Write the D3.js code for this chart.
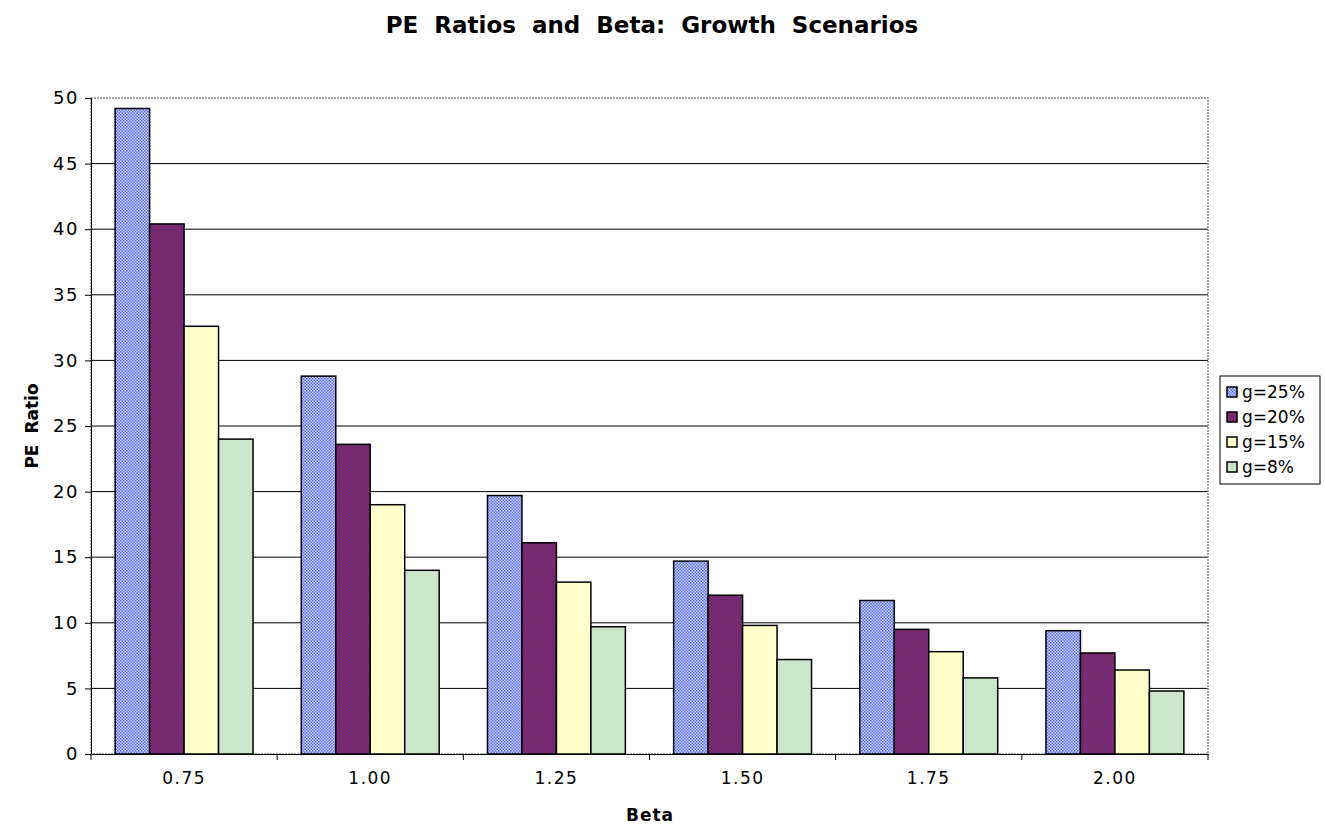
<!DOCTYPE html>
<html><head><meta charset="utf-8">
<script src="https://cdn.jsdelivr.net/npm/d3@7"></script>
<style>body{margin:0;background:#fff;font-family:"DejaVu Sans",sans-serif}</style>
</head><body><svg id="c" width="1325" height="825"></svg>
<script>
const betas = ['0.75','1.00','1.25','1.50','1.75','2.00'];
const seriesNames = ['g=25%','g=20%','g=15%','g=8%'];
const g25 = [49.2, 28.8, 19.7, 14.7, 11.7, 9.4];
const g20 = [40.4, 23.6, 16.1, 12.1, 9.5, 7.7];
const g15 = [32.6, 19.0, 13.1, 9.8, 7.8, 6.4];
const g8  = [24.0, 14.0, 9.7, 7.2, 5.8, 4.8];
const yTicks = [0,5,10,15,20,25,30,35,40,45,50];
const allSeries = [g25, g20, g15, g8];

const svg = d3.select('#c');
const m = {left: 91, right: 1208, top: 98, bottom: 754};

const defs = svg.append('defs');
function dots(id, bg, fg) {
  const p = defs.append('pattern').attr('id', id).attr('width', 3).attr('height', 3)
    .attr('patternUnits', 'userSpaceOnUse');
  p.append('rect').attr('width', 3).attr('height', 3).attr('fill', bg);
  p.append('rect').attr('width', 1.5).attr('height', 1.5).attr('fill', fg);
  p.append('rect').attr('x', 1.5).attr('y', 1.5).attr('width', 1.5).attr('height', 1.5).attr('fill', fg);
}
dots('p25', '#c8d0ff', '#5c6ee8');
dots('p20', '#901a3c', '#5a3aa8');
const fills = ['url(#p25)', 'url(#p20)', '#ffffcc', '#cce6cc'];

const x = d3.scaleBand().domain(betas).range([m.left, m.right]);
const xs = d3.scaleBand().domain(d3.range(4)).range([0, x.bandwidth()]).paddingOuter(0.7);
const y = d3.scaleLinear().domain([0, 50]).range([m.bottom, m.top]);

// grid
svg.append('g').selectAll('line').data(yTicks.filter(d => d > 0 && d < 50)).join('line')
  .attr('x1', m.left).attr('x2', m.right).attr('y1', d => y(d)).attr('y2', d => y(d))
  .attr('stroke', '#000').attr('stroke-width', 1);
svg.append('rect').attr('x', m.left).attr('y', m.top).attr('width', m.right - m.left)
  .attr('height', m.bottom - m.top).attr('fill', 'none').attr('stroke', '#888')
  .attr('stroke-dasharray', '2,1').attr('stroke-width', 1.5);

// bars
allSeries.forEach((vals, s) => {
  svg.append('g').selectAll('rect').data(vals).join('rect')
    .attr('x', (d, i) => x(betas[i]) + xs(s))
    .attr('y', d => y(d)).attr('width', xs.bandwidth())
    .attr('height', d => y(0) - y(d))
    .attr('fill', fills[s]).attr('stroke', '#000').attr('stroke-width', 1.5);
});

// axes
const yAxis = svg.append('g').attr('transform', `translate(${m.left},0)`)
  .call(d3.axisLeft(y).tickValues(yTicks).tickSize(6).tickPadding(6));
yAxis.select('.domain').attr('stroke', '#000');
yAxis.selectAll('text').attr('font-size', 18).attr('font-family', 'DejaVu Sans').attr('letter-spacing', 1.5);
const xAxis = svg.append('g').attr('transform', `translate(0,${m.bottom})`)
  .call(d3.axisBottom(x).tickSize(0).tickPadding(18));
xAxis.selectAll('text').attr('font-size', 17).attr('font-family', 'DejaVu Sans').attr('letter-spacing', 1.5);
xAxis.append('g').selectAll('line').data(d3.range(7)).join('line')
  .attr('x1', d => m.left + d * x.step()).attr('x2', d => m.left + d * x.step())
  .attr('y1', 0).attr('y2', 6).attr('stroke', '#000');

svg.append('text').attr('x', 652).attr('y', 33).attr('text-anchor', 'middle')
  .attr('font-size', 23).attr('font-weight', 'bold').attr('word-spacing', 8)
  .text('PE Ratios and Beta: Growth Scenarios');
svg.append('text').attr('x', 650).attr('y', 821).attr('text-anchor', 'middle')
  .attr('font-size', 17).attr('font-weight', 'bold').attr('letter-spacing', 1).text('Beta');
svg.append('text').attr('transform', 'translate(38,426) rotate(-90)').attr('text-anchor', 'middle')
  .attr('font-size', 17).attr('font-weight', 'bold').attr('word-spacing', 5).text('PE Ratio');

// legend
const lg = svg.append('g').attr('transform', 'translate(1220,376)');
lg.append('rect').attr('width', 100).attr('height', 108).attr('fill', '#fff').attr('stroke', '#000');
seriesNames.forEach((n, i) => {
  lg.append('rect').attr('x', 7).attr('y', 11 + i * 25).attr('width', 10).attr('height', 10)
    .attr('fill', fills[i]).attr('stroke', '#000').attr('stroke-width', 1.5);
  lg.append('text').attr('x', 22).attr('y', 22 + i * 25).attr('font-size', 17).text(n);
});
</script></body></html>
